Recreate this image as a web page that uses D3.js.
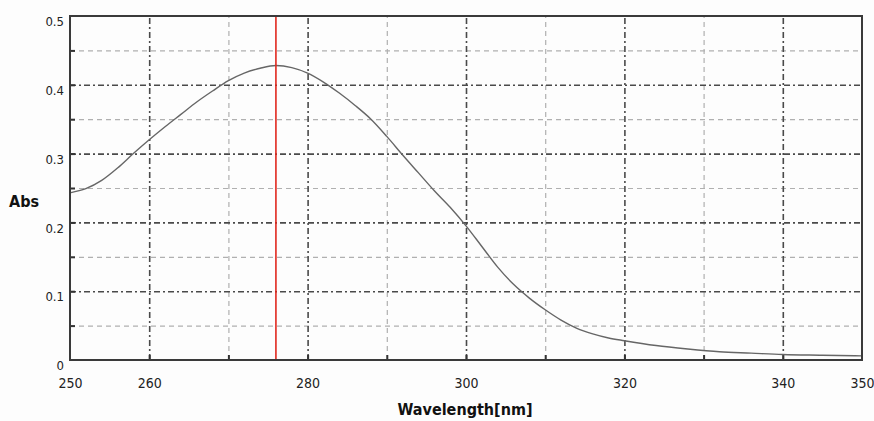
<!DOCTYPE html>
<html>
<head>
<meta charset="utf-8">
<script src="https://cdn.jsdelivr.net/npm/d3@7"></script>
<style>
  html, body { margin: 0; padding: 0; background: #fdfdfd; }
  svg { display: block; }
  .lbl text { font-family: "DejaVu Sans Condensed", "Liberation Sans Narrow", sans-serif; fill: #222; }
</style>
</head>
<body>
<svg id="chart" width="874" height="421"></svg>
<script>
// ---- data ----
const wavelengths = [250,252,254,256,258,260,262,264,266,268,270,272,274,276,278,280,282,284,286,288,290,292,294,296,298,300,302,304,306,308,310,312,314,316,318,320,324,328,332,336,340,345,350];
const absorbance  = [0.243,0.249,0.261,0.279,0.300,0.320,0.339,0.357,0.375,0.391,0.406,0.417,0.424,0.428,0.425,0.417,0.404,0.388,0.370,0.350,0.325,0.298,0.272,0.246,0.222,0.195,0.165,0.135,0.110,0.090,0.073,0.058,0.046,0.038,0.032,0.028,0.021,0.016,0.012,0.010,0.008,0.007,0.006];
const markerWavelength = [276];
const xTickLabels = [250,260,280,300,320,340,350];
const xMajorGrid = [260,280,300,320,340];
const xMinorGrid = [270,290,310,330];
const xTicks = [260,270,280,290,300,310,320,330,340];
const yTickLabels = [0,0.1,0.2,0.3,0.4,0.5];
const yMajorGrid = [0.1,0.2,0.3,0.4];
const yMinorGrid = [0.05,0.15,0.25,0.35,0.45];
const yTicks = [0.05,0.1,0.15,0.2,0.25,0.3,0.35,0.4,0.45];

// ---- layout ----
const svg = d3.select("#chart");
const L = 70, R = 862, T = 16, B = 360;
const x = d3.scaleLinear().domain([250,350]).range([L,R]);
const y = d3.scaleLinear().domain([0,0.5]).range([B,T]);
const fmtY = d => d === 0 ? "0" : d3.format(".1f")(d);

svg.append("rect").attr("x",0).attr("y",0).attr("width",874).attr("height",421).attr("fill","#fdfdfd");

// grids
function vgrid(vals, color, dash, w) {
  const g = svg.append("g").attr("transform",`translate(0,${B})`)
    .call(d3.axisBottom(x).tickValues(vals).tickSize(-(B-T)).tickFormat(""));
  g.select(".domain").remove();
  g.selectAll("line").attr("stroke",color).attr("stroke-dasharray",dash).attr("stroke-width",w);
}
function hgrid(vals, color, dash, w) {
  const g = svg.append("g").attr("transform",`translate(${L},0)`)
    .call(d3.axisLeft(y).tickValues(vals).tickSize(-(R-L)).tickFormat(""));
  g.select(".domain").remove();
  g.selectAll("line").attr("stroke",color).attr("stroke-dasharray",dash).attr("stroke-width",w);
}
vgrid(xMinorGrid, "#b0b0b0", "5,4", 1.2);
hgrid(yMinorGrid, "#b0b0b0", "5,4", 1.2);
vgrid(xMajorGrid, "#4a4a4a", "6,3,2,3", 1.6);
hgrid(yMajorGrid, "#4a4a4a", "6,3,2,3", 1.6);

// inward ticks
const tb = svg.append("g").attr("transform",`translate(0,${B})`)
  .call(d3.axisBottom(x).tickValues(xTicks).tickSize(-5).tickFormat(""));
tb.select(".domain").remove();
tb.selectAll("line").attr("stroke","#333").attr("stroke-width",2);
const tl = svg.append("g").attr("transform",`translate(${L},0)`)
  .call(d3.axisLeft(y).tickValues(yTicks).tickSize(-5).tickFormat(""));
tl.select(".domain").remove();
tl.selectAll("line").attr("stroke","#333").attr("stroke-width",2);

// curve
const line = d3.line().x((d,i)=>x(wavelengths[i])).y(d=>y(d)).curve(d3.curveMonotoneX);
svg.append("path").datum(absorbance).attr("d",line)
  .attr("fill","none").attr("stroke","#666").attr("stroke-width",1.4);

// red marker
svg.selectAll(".marker").data(markerWavelength).enter().append("line")
  .attr("x1",d=>x(d)).attr("x2",d=>x(d)).attr("y1",T).attr("y2",B)
  .attr("stroke","#e0281e").attr("stroke-width",1.6);

// frame
svg.append("rect").attr("x",L).attr("y",T).attr("width",R-L).attr("height",B-T)
  .attr("fill","none").attr("stroke","#3a3a3a").attr("stroke-width",2);

// tick labels
const xl = svg.append("g").attr("class","lbl").attr("transform",`translate(0,${B})`)
  .call(d3.axisBottom(x).tickValues(xTickLabels).tickSize(0).tickPadding(18).tickFormat(d3.format("d")));
xl.select(".domain").remove();
xl.selectAll("text").attr("font-size",14).attr("fill","#222");
const yl = svg.append("g").attr("class","lbl").attr("transform",`translate(${L},0)`)
  .call(d3.axisLeft(y).tickValues(yTickLabels).tickSize(0).tickPadding(6).tickFormat(fmtY));
yl.select(".domain").remove();
yl.selectAll("text").attr("font-size",13).attr("dy","0.75em").attr("fill","#222");

// axis titles
svg.append("text").attr("x",24).attr("y",207).attr("text-anchor","middle")
  .attr("font-family","'DejaVu Sans Condensed', 'Liberation Sans Narrow', sans-serif")
  .attr("font-weight","bold").attr("font-size",16).attr("fill","#111").text("Abs");
svg.append("text").attr("x",465).attr("y",415).attr("text-anchor","middle")
  .attr("font-family","'DejaVu Sans Condensed', 'Liberation Sans Narrow', sans-serif")
  .attr("font-weight","bold").attr("font-size",16).attr("fill","#111").text("Wavelength[nm]");
</script>
</body>
</html>
